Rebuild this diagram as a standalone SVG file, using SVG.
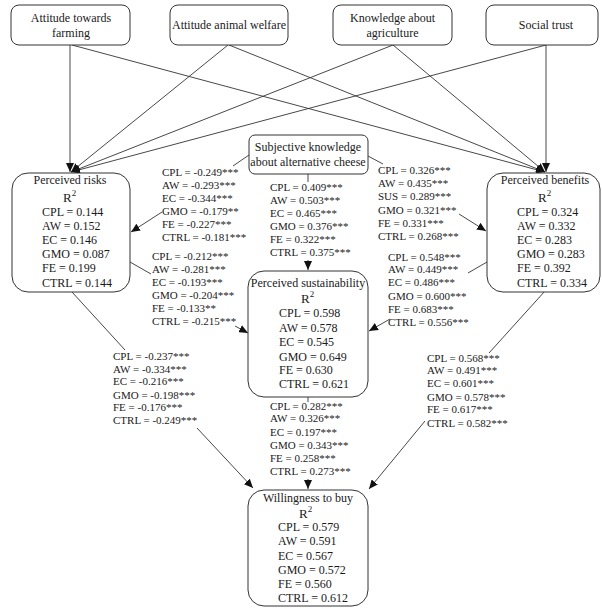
<svg xmlns="http://www.w3.org/2000/svg" width="602" height="609" viewBox="0 0 602 609">
<defs>
<style>
text{font-family:"Liberation Serif","Times New Roman",serif;fill:#1a1a1a}
.nt{font-size:12px}
.c{text-anchor:middle}
.lb{font-size:11px}
.r2{font-size:13px}
.box{fill:#fff;stroke:#333;stroke-width:1}
.ln{fill:none;stroke:#333;stroke-width:0.9}
.ar{marker-end:url(#ah)}
</style>
<marker id="ah" viewBox="0 0 9 8" refX="9" refY="4" markerWidth="9" markerHeight="8" markerUnits="userSpaceOnUse" orient="auto">
<path d="M0,0 L9,4 L0,8 z" fill="#111"/>
</marker>
</defs>
<rect width="602" height="609" fill="#fff"/>

<g id="connectors">
<line class="ln ar" x1="70" y1="45" x2="70" y2="172"/>
<line class="ln ar" x1="72" y1="45" x2="545" y2="172"/>
<line class="ln ar" x1="228" y1="45" x2="71" y2="172"/>
<line class="ln ar" x1="229" y1="45" x2="545" y2="172"/>
<line class="ln ar" x1="393" y1="45" x2="71" y2="172"/>
<line class="ln ar" x1="393" y1="45" x2="545" y2="172"/>
<line class="ln ar" x1="546" y1="45" x2="546" y2="172"/>
<line class="ln ar" x1="546" y1="45" x2="71" y2="172"/>

<line class="ln" x1="249" y1="155" x2="233" y2="166"/>
<line class="ln ar" x1="162" y1="212" x2="131" y2="232"/>
<line class="ln" x1="368" y1="156" x2="383" y2="164"/>
<line class="ln ar" x1="459" y1="214" x2="486" y2="231"/>
<line class="ln" x1="308" y1="174" x2="308" y2="182"/>
<line class="ln ar" x1="308" y1="260" x2="308" y2="270"/>
<line class="ln" x1="130" y1="262" x2="151" y2="274"/>
<line class="ln ar" x1="235" y1="326" x2="248" y2="333"/>
<line class="ln" x1="487" y1="262" x2="468" y2="273"/>
<line class="ln ar" x1="390" y1="319" x2="369" y2="331"/>
<line class="ln" x1="72" y1="292" x2="125" y2="350"/>
<line class="ln ar" x1="197" y1="428" x2="253" y2="488"/>
<line class="ln" x1="308" y1="397" x2="308" y2="402"/>
<line class="ln ar" x1="308" y1="479" x2="308" y2="489"/>
<line class="ln" x1="545" y1="291" x2="489" y2="353"/>
<line class="ln ar" x1="425" y1="421" x2="369" y2="489"/>

<g id="lbl-subj-risks" class="lb">
<text x="162" y="176">CPL = -0.249***</text>
<text x="162" y="189">AW = -0.293***</text>
<text x="162" y="202">EC = -0.344***</text>
<text x="162" y="215">GMO = -0.179**</text>
<text x="162" y="228">FE = -0.227***</text>
<text x="162" y="241">CTRL = -0.181***</text>
</g>
<g id="lbl-risks-sust" class="lb">
<text x="152" y="260">CPL = -0.212***</text>
<text x="152" y="273">AW = -0.281***</text>
<text x="152" y="286">EC = -0.193***</text>
<text x="152" y="299">GMO = -0.204***</text>
<text x="152" y="312">FE = -0.133**</text>
<text x="152" y="325">CTRL = -0.215***</text>
</g>
<g id="lbl-subj-sust" class="lb">
<text x="270" y="191">CPL = 0.409***</text>
<text x="270" y="204">AW = 0.503***</text>
<text x="270" y="217">EC = 0.465***</text>
<text x="270" y="230">GMO = 0.376***</text>
<text x="270" y="243">FE = 0.322***</text>
<text x="270" y="256">CTRL = 0.375***</text>
</g>
<g id="lbl-subj-ben" class="lb">
<text x="378" y="174">CPL = 0.326***</text>
<text x="378" y="187">AW = 0.435***</text>
<text x="378" y="200">SUS = 0.289***</text>
<text x="378" y="214">GMO = 0.321***</text>
<text x="378" y="227">FE = 0.331***</text>
<text x="378" y="240">CTRL = 0.268***</text>
</g>
<g id="lbl-ben-sust" class="lb">
<text x="388" y="261">CPL = 0.548***</text>
<text x="388" y="273">AW = 0.449***</text>
<text x="388" y="286">EC = 0.486***</text>
<text x="388" y="300">GMO = 0.600***</text>
<text x="388" y="313">FE = 0.683***</text>
<text x="388" y="326">CTRL = 0.556***</text>
</g>
<g id="lbl-risks-wtb" class="lb">
<text x="113" y="360">CPL = -0.237***</text>
<text x="113" y="373">AW = -0.334***</text>
<text x="113" y="385">EC = -0.216***</text>
<text x="113" y="399">GMO = -0.198***</text>
<text x="113" y="411">FE = -0.176***</text>
<text x="113" y="424">CTRL = -0.249***</text>
</g>
<g id="lbl-sust-wtb" class="lb">
<text x="270" y="410">CPL = 0.282***</text>
<text x="270" y="422">AW = 0.326***</text>
<text x="270" y="436">EC = 0.197***</text>
<text x="270" y="449">GMO = 0.343***</text>
<text x="270" y="462">FE = 0.258***</text>
<text x="270" y="475">CTRL = 0.273***</text>
</g>
<g id="lbl-ben-wtb" class="lb">
<text x="427" y="362">CPL = 0.568***</text>
<text x="427" y="374">AW = 0.491***</text>
<text x="427" y="387">EC = 0.601***</text>
<text x="427" y="401">GMO = 0.578***</text>
<text x="427" y="413">FE = 0.617***</text>
<text x="427" y="427">CTRL = 0.582***</text>
</g>
</g>

<g id="n-farming">
<rect class="box" x="11" y="5" width="119" height="40" rx="8"/>
<text class="nt c" x="71" y="22">Attitude towards</text>
<text class="nt c" x="71" y="37">farming</text>
</g>
<g id="n-welfare">
<rect class="box" x="170" y="5" width="118" height="40" rx="8"/>
<text class="nt c" x="229" y="29">Attitude animal welfare</text>
</g>
<g id="n-knowledge">
<rect class="box" x="333" y="5" width="119" height="40" rx="8"/>
<text class="nt c" x="392.5" y="22">Knowledge about</text>
<text class="nt c" x="392.5" y="37">agriculture</text>
</g>
<g id="n-trust">
<rect class="box" x="486" y="5" width="112" height="40" rx="8"/>
<text class="nt c" x="546" y="29">Social trust</text>
</g>
<g id="n-subjective">
<rect class="box" x="249" y="135" width="119" height="39" rx="6"/>
<text class="nt c" x="308" y="151">Subjective knowledge</text>
<text class="nt c" x="308" y="166">about alternative cheese</text>
</g>
<g id="n-risks" class="nt">
<rect class="box" x="12" y="173" width="118" height="119" rx="16"/>
<text class="c" x="70" y="184">Perceived risks</text>
<text class="r2" x="63" y="202">R<tspan font-size="9" dy="-6">2</tspan></text>
<text x="42" y="216">CPL = 0.144</text>
<text x="42" y="230">AW = 0.152</text>
<text x="42" y="244">EC = 0.146</text>
<text x="42" y="258">GMO = 0.087</text>
<text x="42" y="272">FE = 0.199</text>
<text x="42" y="287">CTRL = 0.144</text>
</g>
<g id="n-benefits" class="nt">
<rect class="box" x="487" y="173" width="113" height="119" rx="16"/>
<text class="c" x="545" y="184">Perceived benefits</text>
<text class="r2" x="538" y="202">R<tspan font-size="9" dy="-6">2</tspan></text>
<text x="517" y="216">CPL = 0.324</text>
<text x="517" y="230">AW = 0.332</text>
<text x="517" y="244">EC = 0.283</text>
<text x="517" y="258">GMO = 0.283</text>
<text x="517" y="272">FE = 0.392</text>
<text x="517" y="287">CTRL = 0.334</text>
</g>
<g id="n-sustainability" class="nt">
<rect class="box" x="248" y="271" width="120" height="126" rx="16"/>
<text class="c" x="308" y="287">Perceived sustainability</text>
<text class="r2" x="301" y="303">R<tspan font-size="9" dy="-6">2</tspan></text>
<text x="279" y="317">CPL = 0.598</text>
<text x="279" y="332">AW = 0.578</text>
<text x="279" y="346">EC = 0.545</text>
<text x="279" y="361">GMO = 0.649</text>
<text x="279" y="374">FE = 0.630</text>
<text x="279" y="388">CTRL = 0.621</text>
</g>
<g id="n-willingness" class="nt">
<rect class="box" x="248" y="490" width="120" height="116" rx="16"/>
<text class="c" x="308" y="502">Willingness to buy</text>
<text class="r2" x="299" y="518">R<tspan font-size="9" dy="-6">2</tspan></text>
<text x="278" y="531">CPL = 0.579</text>
<text x="278" y="545">AW = 0.591</text>
<text x="278" y="560">EC = 0.567</text>
<text x="278" y="574">GMO = 0.572</text>
<text x="278" y="588">FE = 0.560</text>
<text x="278" y="602">CTRL = 0.612</text>
</g>
</svg>
